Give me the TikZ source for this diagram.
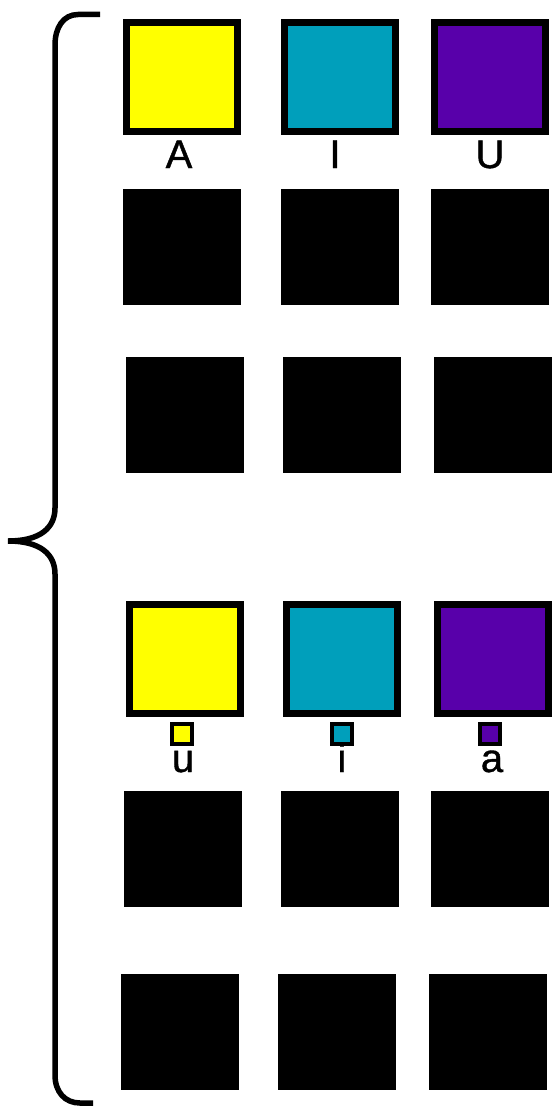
\documentclass[tikz,border=0pt]{standalone}
\usepackage{fontspec}
\setmainfont{Liberation Sans}
\newfontfamily\labelfont[FakeBold=1]{Liberation Sans}
\usepackage{xcolor}
\usepackage{tikz}
\usetikzlibrary{positioning}
\definecolor{vowelyellow}{HTML}{FFFF00}
\definecolor{vowelteal}{HTML}{009FBB}
\definecolor{vowelpurple}{HTML}{5800AA}
\tikzset{
  colsq/.style={draw=black, line width=7pt, inner sep=0pt,
                minimum width=111pt, minimum height=109pt},
  blacksq/.style={fill=black, inner sep=0pt,
                  minimum width=118pt, minimum height=116pt},
  minisq/.style={draw=black, line width=4pt, inner sep=0pt, minimum size=20pt},
  lbl/.style={font=\labelfont\fontsize{40}{40}\selectfont, inner sep=0pt, anchor=base},
  bracket/.style={draw=black, line width=5.5pt},
}

\begin{document}
\begin{tikzpicture}[x=1pt, y=-1pt]
  \useasboundingbox (0,0) rectangle (557,1110);

  % upper group
  \node[colsq, fill=vowelyellow] (bigA) at (182,77) {};
  \node[colsq, fill=vowelteal]   (bigI) at (340,77) {};
  \node[colsq, fill=vowelpurple] (bigU) at (490,77) {};
  \node[lbl] (lblA) at (179,168) {A};
  \node[lbl] (lblI) at (335,168) {I};
  \node[lbl] (lblU) at (490,168) {U};

  \node[blacksq] (up21) at (182,247) {};
  \node[blacksq] (up22) at (340,247) {};
  \node[blacksq] (up23) at (490,247) {};
  \node[blacksq] (up31) at (185,415) {};
  \node[blacksq] (up32) at (342,415) {};
  \node[blacksq] (up33) at (492.5,415) {};

  % lower group
  \node[colsq, fill=vowelyellow] (bigu) at (185,659) {};
  \node[colsq, fill=vowelteal]   (bigi) at (342,659) {};
  \node[colsq, fill=vowelpurple] (biga) at (493,659) {};
  \node[minisq, fill=vowelyellow] (miniu) at (181.5,734) {};
  \node[minisq, fill=vowelteal]   (minii) at (342,734) {};
  \node[minisq, fill=vowelpurple] (minia) at (490,734) {};
  \node[lbl] (lblu) at (183,772) {u};
  \node[lbl] (lbli) at (342,772) {i};
  \node[lbl] (lbla) at (492,772) {a};

  \node[blacksq] (lo21) at (182.5,848.5) {};
  \node[blacksq] (lo22) at (340,848.5) {};
  \node[blacksq] (lo23) at (490,848.5) {};
  \node[blacksq] (lo31) at (180,1031.5) {};
  \node[blacksq] (lo32) at (337,1031.5) {};
  \node[blacksq] (lo33) at (487.5,1031.5) {};

  % curly brace
  \draw[bracket] (100,14.5) -- (78,14.5)
    .. controls (63,14.5) and (55,28) .. (55,45) -- (55,508)
    .. controls (55,528) and (40,541) .. (8,541)
    .. controls (40,541) and (55,554) .. (55,574) -- (55,1075)
    .. controls (55,1092) and (65,1103) .. (80,1103) -- (93,1103);
\end{tikzpicture}
\end{document}
